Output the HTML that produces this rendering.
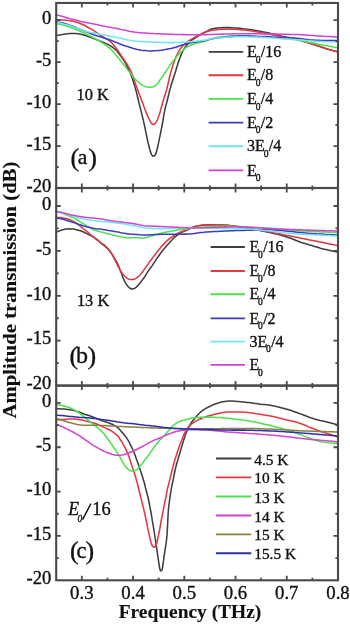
<!DOCTYPE html>
<html><head><meta charset="utf-8"><style>
html,body{margin:0;padding:0;background:#fff;width:350px;height:624px;overflow:hidden}
svg{display:block;will-change:transform}
text{font-family:"Liberation Serif",serif;fill:#111;stroke:#111;stroke-width:0.35px}
.cv path{fill:none;stroke-width:1.55;stroke-linejoin:round;stroke-linecap:round}
.ax{fill:none;stroke:#4a4a4a;stroke-width:2.1}
.tk{stroke:#4a4a4a;stroke-width:1.8;fill:none}
.yl{font-size:18.6px;text-anchor:end}
.xl{font-size:18.8px;text-anchor:middle}
.lg{stroke-width:1.9;fill:none}
.lt{font-size:16px}
.lt .sub{font-size:9.5px}
.lt2{font-size:15.4px}
.an{font-size:16.4px}
.pl{font-size:26px}
.pli{font-size:21.5px}
.e16{font-size:18.4px}
.xt{font-size:19.4px;font-weight:bold;text-anchor:middle;stroke-width:0.15px}
.yt{font-size:19.6px;font-weight:bold;stroke-width:0.15px}
</style></head><body>
<svg width="350" height="624" viewBox="0 0 350 624">
<g class="cv">
<path d="M56.0,35.7 58.0,35.3 59.9,34.9 61.9,34.6 63.9,34.2 65.8,33.9 67.8,33.7 69.8,33.5 71.8,33.5 73.8,33.5 75.8,33.6 77.8,33.8 79.8,34.1 81.7,34.4 83.7,34.9 85.6,35.5 87.5,36.2 89.4,36.9 91.2,37.6 93.1,38.3 94.9,39.0 96.8,39.8 98.7,40.5 100.5,41.3 102.4,42.0 104.2,42.8 106.1,43.6 107.9,44.4 109.6,45.4 111.3,46.4 113.0,47.5 114.6,48.8 116.0,50.1 117.3,51.6 118.6,53.2 119.8,54.8 121.0,56.4 122.2,58.0 123.3,59.7 124.3,61.4 125.4,63.1 126.3,64.8 127.2,66.6 128.1,68.4 128.9,70.2 129.8,72.1 130.6,73.9 131.3,75.7 132.1,77.6 132.7,79.5 133.3,81.4 133.9,83.3 134.5,85.2 135.0,87.1 135.5,89.1 136.1,91.0 136.6,92.9 137.1,94.9 137.5,96.8 138.0,98.8 138.5,100.7 138.9,102.7 139.4,104.6 139.9,106.5 140.4,108.5 140.9,110.4 141.4,112.4 141.9,114.3 142.3,116.2 142.8,118.2 143.3,120.1 143.7,122.1 144.2,124.0 144.6,126.0 145.0,127.9 145.4,129.9 145.8,131.9 146.2,133.8 146.6,135.8 147.0,137.7 147.4,139.7 147.8,141.6 148.3,143.6 148.8,145.5 149.3,147.5 149.8,149.4 150.4,151.3 150.9,153.2 151.8,155.0 153.0,156.2 154.5,155.8 155.6,154.2 156.3,152.4 156.8,150.4 157.3,148.5 157.8,146.6 158.2,144.6 158.6,142.6 159.0,140.7 159.4,138.7 159.8,136.8 160.2,134.8 160.6,132.9 161.0,130.9 161.4,128.9 161.8,127.0 162.2,125.0 162.5,123.0 162.9,121.1 163.2,119.1 163.5,117.1 163.9,115.1 164.2,113.2 164.6,111.2 165.0,109.3 165.5,107.3 166.0,105.4 166.5,103.4 167.0,101.5 167.5,99.6 167.9,97.6 168.4,95.7 168.9,93.7 169.3,91.8 169.8,89.9 170.4,87.9 170.9,86.0 171.5,84.1 172.1,82.2 172.7,80.3 173.3,78.4 173.9,76.5 174.6,74.6 175.2,72.7 175.8,70.8 176.3,68.8 176.9,66.9 177.5,65.0 178.1,63.1 178.7,61.2 179.4,59.3 180.1,57.4 180.8,55.6 181.6,53.7 182.4,51.9 183.4,50.2 184.4,48.4 185.5,46.8 186.7,45.2 188.0,43.6 189.4,42.2 190.9,40.9 192.5,39.7 194.2,38.6 195.8,37.5 197.5,36.5 199.2,35.4 201.0,34.4 202.7,33.5 204.5,32.5 206.3,31.6 208.0,30.7 209.8,29.8 211.7,29.1 213.6,28.6 215.6,28.2 217.6,28.0 219.6,27.8 221.6,27.7 223.6,27.6 225.6,27.6 227.6,27.6 229.6,27.6 231.6,27.7 233.6,27.9 235.6,28.0 237.5,28.1 239.5,28.3 241.5,28.5 243.5,28.8 245.5,29.0 247.5,29.3 249.5,29.5 251.4,29.8 253.4,30.1 255.4,30.4 257.4,30.8 259.3,31.1 261.3,31.5 263.3,31.9 265.2,32.3 267.2,32.7 269.1,33.1 271.1,33.6 273.0,34.0 275.0,34.5 276.9,35.0 278.8,35.5 280.8,36.0 282.7,36.4 284.7,36.8 286.7,37.2 288.6,37.5 290.6,37.8 292.6,38.1 294.5,38.6 296.5,39.1 298.4,39.6 300.3,40.2 302.2,40.9 304.1,41.5 306.0,42.1 307.9,42.7 309.8,43.3 311.7,43.9 313.6,44.5 315.5,45.1 317.4,45.7 319.3,46.3 321.2,47.0 323.1,47.6 325.0,48.3 326.9,48.9 328.8,49.5 330.8,50.0 332.7,50.6 334.6,51.1 336.6,51.6 337.5,51.9" stroke="#3e3e3e"/>
<path d="M56.0,19.6 58.0,19.7 60.0,19.8 62.0,20.0 64.0,20.1 66.0,20.2 68.0,20.4 70.0,20.7 71.9,21.0 73.9,21.4 75.8,22.0 77.7,22.6 79.6,23.2 81.4,24.0 83.3,24.8 85.0,25.7 86.8,26.7 88.6,27.7 90.3,28.6 92.0,29.6 93.7,30.7 95.4,31.8 97.1,32.9 98.7,34.0 100.4,35.1 102.1,36.1 103.8,37.2 105.5,38.3 107.2,39.3 108.8,40.5 110.4,41.7 111.9,43.0 113.3,44.5 114.5,46.0 115.8,47.6 116.9,49.2 118.1,50.9 119.2,52.5 120.3,54.2 121.4,55.8 122.5,57.5 123.7,59.2 124.8,60.8 125.9,62.5 127.0,64.1 128.0,65.9 129.0,67.6 129.9,69.4 130.8,71.2 131.7,73.0 132.4,74.8 133.1,76.7 133.7,78.6 134.4,80.5 135.0,82.4 135.7,84.3 136.3,86.2 137.0,88.1 137.7,89.9 138.4,91.8 139.1,93.7 139.8,95.6 140.5,97.4 141.2,99.3 141.9,101.2 142.6,103.1 143.3,104.9 144.0,106.8 144.7,108.7 145.4,110.5 146.1,112.4 146.9,114.2 147.7,116.1 148.5,117.9 149.4,119.7 150.2,121.5 151.2,123.2 152.6,124.4 154.3,124.3 155.6,123.0 156.7,121.3 157.5,119.5 158.2,117.6 158.9,115.8 159.5,113.9 160.1,112.0 160.6,110.0 161.1,108.1 161.7,106.2 162.2,104.2 162.7,102.3 163.3,100.4 163.9,98.5 164.5,96.6 165.1,94.7 165.7,92.8 166.3,90.9 166.9,88.9 167.3,87.0 167.7,85.0 168.2,83.1 168.6,81.1 169.0,79.2 169.5,77.2 170.0,75.3 170.5,73.4 171.0,71.4 171.6,69.5 172.2,67.6 172.8,65.7 173.4,63.8 174.1,61.9 174.8,60.0 175.5,58.2 176.3,56.3 177.1,54.5 178.0,52.7 178.9,51.0 180.0,49.3 181.2,47.7 182.5,46.2 183.9,44.8 185.4,43.4 187.0,42.1 188.6,41.0 190.3,39.9 192.0,38.9 193.7,37.9 195.5,37.0 197.3,36.0 199.0,35.1 200.8,34.2 202.6,33.3 204.4,32.5 206.3,31.8 208.2,31.2 210.2,30.7 212.1,30.3 214.1,29.9 216.1,29.7 218.1,29.5 220.0,29.4 222.0,29.3 224.0,29.2 226.0,29.2 228.0,29.2 230.0,29.2 232.0,29.2 234.0,29.3 236.0,29.4 238.0,29.5 240.0,29.7 242.0,29.9 244.0,30.1 246.0,30.3 248.0,30.5 250.0,30.8 251.9,31.1 253.9,31.4 255.9,31.7 257.9,32.0 259.8,32.4 261.8,32.7 263.8,33.1 265.7,33.5 267.7,33.9 269.6,34.3 271.6,34.7 273.6,35.1 275.5,35.4 277.5,35.8 279.5,36.1 281.5,36.4 283.4,36.8 285.4,37.1 287.4,37.4 289.4,37.7 291.3,38.0 293.3,38.4 295.2,38.8 297.2,39.4 299.1,39.9 301.0,40.5 302.9,41.1 304.8,41.7 306.7,42.3 308.6,42.9 310.5,43.5 312.5,44.1 314.4,44.7 316.3,45.3 318.2,46.0 320.1,46.6 322.0,47.2 323.8,47.9 325.7,48.5 327.7,49.1 329.6,49.7 331.5,50.2 333.4,50.8 335.3,51.3 337.3,51.8 337.8,51.9" stroke="#e23840"/>
<path d="M56.0,23.5 58.0,23.9 59.9,24.3 61.9,24.7 63.8,25.2 65.7,25.7 67.7,26.3 69.5,27.0 71.4,27.7 73.3,28.4 75.1,29.2 77.0,30.0 78.8,30.7 80.7,31.5 82.5,32.3 84.3,33.2 86.1,34.1 87.9,35.0 89.6,35.8 91.5,36.7 93.2,37.6 95.0,38.5 96.7,39.5 98.5,40.5 100.2,41.6 101.9,42.6 103.6,43.7 105.2,44.8 106.9,45.9 108.5,47.1 110.0,48.4 111.5,49.8 112.8,51.3 114.1,52.8 115.3,54.4 116.6,55.9 117.9,57.5 119.1,59.0 120.4,60.6 121.6,62.2 122.9,63.7 124.1,65.3 125.4,66.8 126.6,68.4 127.8,70.0 129.1,71.5 130.3,73.1 131.6,74.7 132.8,76.3 134.0,77.8 135.3,79.4 136.7,80.8 138.2,82.1 139.7,83.4 141.4,84.5 143.1,85.6 144.9,86.4 146.8,87.0 148.8,87.2 150.8,87.2 152.7,86.9 154.6,86.2 156.2,85.0 157.5,83.6 158.7,82.0 159.8,80.3 161.0,78.7 162.1,77.0 163.3,75.4 164.4,73.7 165.5,72.0 166.5,70.4 167.7,68.7 168.8,67.1 169.9,65.4 171.1,63.8 172.3,62.2 173.5,60.6 174.7,59.0 176.0,57.5 177.3,55.9 178.6,54.5 180.0,53.0 181.4,51.6 182.9,50.2 184.3,48.9 185.9,47.6 187.6,46.6 189.4,45.7 191.2,44.9 193.1,44.2 195.0,43.6 196.9,43.1 198.9,42.7 200.9,42.3 202.8,41.9 204.7,41.3 206.6,40.7 208.5,39.9 210.3,39.1 212.2,38.5 214.1,38.0 216.1,37.6 218.1,37.3 220.0,37.0 222.0,36.8 224.0,36.6 226.0,36.4 228.0,36.2 230.0,36.1 232.0,36.0 234.0,35.9 236.0,35.8 238.0,35.8 240.0,35.7 242.0,35.8 244.0,35.8 246.0,35.9 248.0,36.0 250.0,36.1 252.0,36.2 254.0,36.3 256.0,36.4 258.0,36.5 260.0,36.7 262.0,36.8 264.0,36.9 266.0,37.0 268.0,37.2 269.9,37.3 271.9,37.5 273.9,37.7 275.9,37.8 277.9,38.0 279.9,38.2 281.9,38.4 283.9,38.6 285.9,38.8 287.9,38.9 289.9,39.1 291.9,39.4 293.8,39.6 295.8,39.8 297.8,40.1 299.8,40.4 301.8,40.7 303.7,41.1 305.7,41.5 307.6,41.9 309.6,42.3 311.5,42.7 313.5,43.1 315.5,43.5 317.4,43.9 319.4,44.3 321.4,44.7 323.3,45.1 325.3,45.5 327.2,45.8 329.2,46.2 331.2,46.6 333.1,47.0 335.1,47.3 337.1,47.7 337.6,47.8" stroke="#4ce24c"/>
<path d="M56.0,21.6 58.0,22.0 59.9,22.4 61.9,22.8 63.8,23.3 65.7,23.8 67.7,24.4 69.5,25.1 71.4,25.8 73.3,26.5 75.1,27.3 77.0,28.1 78.8,28.8 80.7,29.5 82.5,30.2 84.4,31.0 86.3,31.7 88.1,32.5 90.0,33.3 91.8,34.0 93.7,34.7 95.6,35.4 97.5,36.0 99.4,36.5 101.3,37.1 103.2,37.7 105.1,38.3 107.0,38.9 108.9,39.5 110.8,40.2 112.7,40.9 114.5,41.7 116.4,42.4 118.2,43.2 120.1,44.0 121.9,44.7 123.8,45.4 125.7,46.1 127.6,46.6 129.5,47.2 131.4,47.8 133.4,48.4 135.3,48.9 137.2,49.4 139.2,49.8 141.1,50.2 143.1,50.4 145.1,50.6 147.1,50.8 149.1,50.9 151.1,50.9 153.1,50.8 155.1,50.7 157.1,50.6 159.1,50.4 161.1,50.2 163.1,49.9 165.0,49.6 167.0,49.2 169.0,48.8 170.9,48.4 172.9,47.9 174.8,47.4 176.7,46.9 178.6,46.3 180.5,45.6 182.4,45.0 184.3,44.5 186.3,43.9 188.2,43.4 190.2,43.0 192.1,42.6 194.1,42.2 196.1,41.9 198.0,41.6 200.0,41.4 202.0,41.1 204.0,40.7 205.9,40.3 207.9,39.8 209.8,39.3 211.7,38.9 213.7,38.5 215.7,38.2 217.7,37.9 219.6,37.6 221.6,37.4 223.6,37.2 225.6,37.0 227.6,36.8 229.6,36.6 231.6,36.5 233.6,36.3 235.6,36.2 237.6,36.1 239.6,36.1 241.6,36.1 243.6,36.0 245.6,36.1 247.6,36.1 249.6,36.1 251.6,36.2 253.6,36.2 255.6,36.3 257.6,36.4 259.6,36.4 261.6,36.5 263.6,36.6 265.6,36.6 267.6,36.7 269.6,36.8 271.6,36.9 273.6,37.1 275.6,37.2 277.5,37.3 279.5,37.4 281.5,37.5 283.5,37.6 285.5,37.7 287.5,37.8 289.5,37.8 291.5,37.9 293.5,38.1 295.5,38.2 297.5,38.3 299.5,38.5 301.5,38.7 303.5,38.9 305.5,39.2 307.5,39.4 309.4,39.7 311.4,39.9 313.4,40.0 315.4,40.2 317.4,40.2 319.4,40.3 321.4,40.4 323.4,40.4 325.4,40.4 327.4,40.4 329.4,40.4 331.4,40.4 333.4,40.4 335.4,40.4 337.4,40.4 337.9,40.4" stroke="#3c3cc0"/>
<path d="M56.0,22.2 58.0,22.6 59.9,23.0 61.9,23.4 63.8,23.9 65.7,24.4 67.7,25.0 69.6,25.6 71.4,26.3 73.3,27.0 75.2,27.7 77.1,28.3 79.0,29.0 80.9,29.6 82.8,30.3 84.7,30.9 86.6,31.5 88.5,32.0 90.5,32.4 92.4,32.7 94.4,33.1 96.4,33.5 98.3,33.9 100.3,34.3 102.3,34.7 104.2,35.1 106.2,35.5 108.1,35.8 110.1,36.2 112.1,36.5 114.1,36.8 116.0,37.2 118.0,37.7 119.9,38.1 121.8,38.6 123.8,39.1 125.7,39.6 127.7,40.0 129.7,40.3 131.6,40.6 133.6,40.9 135.6,41.1 137.6,41.3 139.6,41.4 141.6,41.5 143.6,41.6 145.6,41.7 147.6,41.8 149.6,41.9 151.6,42.0 153.6,42.1 155.6,42.2 157.6,42.2 159.6,42.3 161.6,42.4 163.6,42.5 165.6,42.5 167.6,42.6 169.6,42.6 171.6,42.6 173.6,42.6 175.6,42.5 177.6,42.5 179.6,42.4 181.6,42.3 183.6,42.2 185.6,42.1 187.6,42.0 189.5,41.8 191.5,41.7 193.5,41.5 195.5,41.3 197.5,41.1 199.5,40.9 201.5,40.6 203.5,40.4 205.4,40.0 207.4,39.6 209.3,39.2 211.3,38.7 213.3,38.4 215.2,38.1 217.2,37.9 219.2,37.7 221.2,37.6 223.2,37.4 225.2,37.3 227.2,37.2 229.2,37.1 231.2,37.0 233.2,36.9 235.2,36.8 237.2,36.8 239.2,36.7 241.2,36.7 243.2,36.7 245.2,36.8 247.2,36.8 249.2,36.9 251.2,36.9 253.2,37.0 255.2,37.0 257.2,37.1 259.2,37.2 261.2,37.3 263.2,37.4 265.2,37.5 267.2,37.7 269.2,37.8 271.2,38.0 273.2,38.1 275.2,38.3 277.1,38.4 279.1,38.5 281.1,38.7 283.1,38.8 285.1,38.9 287.1,39.0 289.1,39.2 291.1,39.3 293.1,39.4 295.1,39.5 297.1,39.7 299.1,39.8 301.1,40.0 303.1,40.2 305.1,40.4 307.1,40.6 309.1,40.8 311.0,41.0 313.0,41.1 315.0,41.2 317.0,41.3 319.0,41.4 321.0,41.5 323.0,41.6 325.0,41.7 327.0,41.7 329.0,41.8 331.0,41.8 333.0,41.8 335.0,41.8 337.0,41.9 337.5,41.9" stroke="#70e6f0"/>
<path d="M56.0,14.9 58.0,15.3 59.9,15.8 61.8,16.3 63.8,16.8 65.7,17.4 67.6,18.0 69.5,18.6 71.4,19.1 73.4,19.5 75.3,20.0 77.3,20.5 79.2,21.0 81.1,21.5 83.1,21.9 85.1,22.3 87.0,22.7 89.0,23.1 91.0,23.4 92.9,23.8 94.9,24.2 96.8,24.6 98.8,25.1 100.7,25.5 102.7,25.9 104.6,26.3 106.6,26.7 108.6,27.0 110.6,27.3 112.5,27.7 114.5,28.0 116.5,28.4 118.4,28.8 120.4,29.3 122.3,29.7 124.3,30.1 126.2,30.6 128.2,31.0 130.1,31.4 132.1,31.7 134.1,32.1 136.1,32.3 138.1,32.6 140.0,32.7 142.0,32.9 144.0,33.0 146.0,33.1 148.0,33.2 150.0,33.4 152.0,33.4 154.0,33.6 156.0,33.7 158.0,33.7 160.0,33.8 162.0,33.9 164.0,34.0 166.0,34.1 168.0,34.2 170.0,34.2 172.0,34.3 174.0,34.4 176.0,34.4 178.0,34.5 180.0,34.5 182.0,34.6 184.0,34.6 186.0,34.7 188.0,34.7 190.0,34.7 192.0,34.8 194.0,34.8 196.0,34.8 198.0,34.8 200.0,34.8 202.0,34.8 204.0,34.7 206.0,34.7 208.0,34.6 210.0,34.5 212.0,34.4 214.0,34.4 216.0,34.3 218.0,34.2 220.0,34.2 222.0,34.1 224.0,34.1 226.0,34.0 228.0,33.9 230.0,33.9 232.0,33.9 234.0,33.8 236.0,33.8 238.0,33.8 240.0,33.8 242.0,33.8 244.0,33.8 246.0,33.8 248.0,33.8 250.0,33.8 252.0,33.8 254.0,33.8 256.0,33.8 258.0,33.8 260.0,33.9 262.0,33.9 264.0,33.9 266.0,33.9 268.0,34.0 270.0,34.0 272.0,34.0 274.0,34.1 276.0,34.1 278.0,34.1 280.0,34.2 282.0,34.2 284.0,34.2 286.0,34.3 288.0,34.3 290.0,34.4 292.0,34.4 294.0,34.5 296.0,34.5 298.0,34.6 300.0,34.7 302.0,34.8 304.0,34.9 306.0,35.0 308.0,35.2 310.0,35.3 311.9,35.4 313.9,35.6 315.9,35.7 317.9,35.9 319.9,36.0 321.9,36.1 323.9,36.3 325.9,36.4 327.9,36.5 329.9,36.6 331.9,36.7 333.9,36.8 335.9,36.9 337.9,37.0" stroke="#d044d0"/>
<path d="M56.0,232.0 57.9,231.4 59.8,230.7 61.7,230.1 63.6,229.6 65.6,229.1 67.5,228.9 69.5,228.8 71.5,228.9 73.5,229.1 75.5,229.5 77.5,229.9 79.4,230.4 81.3,231.1 83.1,231.8 84.9,232.7 86.7,233.6 88.5,234.5 90.3,235.4 92.1,236.3 93.8,237.2 95.5,238.3 97.1,239.5 98.5,240.9 99.9,242.3 101.5,243.6 103.1,244.8 104.7,246.0 106.2,247.3 107.6,248.7 109.0,250.2 110.2,251.7 111.4,253.4 112.5,255.0 113.5,256.7 114.6,258.4 115.6,260.1 116.6,261.9 117.5,263.7 118.3,265.5 119.1,267.3 119.8,269.2 120.6,271.1 121.3,272.9 122.0,274.8 122.6,276.7 123.4,278.5 124.2,280.4 125.1,282.2 126.1,283.9 127.2,285.5 128.5,287.0 130.1,288.3 131.8,289.0 133.7,288.8 135.4,287.8 136.9,286.6 138.3,285.1 139.6,283.6 140.8,282.0 142.0,280.4 143.2,278.8 144.4,277.2 145.5,275.5 146.5,273.8 147.5,272.1 148.7,270.4 149.8,268.8 151.0,267.2 152.2,265.6 153.3,263.9 154.4,262.3 155.5,260.6 156.6,258.9 157.8,257.3 158.9,255.7 160.1,254.0 161.2,252.4 162.4,250.8 163.7,249.2 165.0,247.7 166.3,246.2 167.6,244.7 169.0,243.2 170.3,241.8 171.7,240.3 173.0,238.8 174.5,237.4 176.0,236.1 177.6,234.9 179.2,233.8 181.0,232.8 182.7,231.9 184.6,231.1 186.4,230.3 188.2,229.5 190.0,228.6 191.8,227.7 193.6,226.9 195.6,226.3 197.5,225.9 199.5,225.6 201.5,225.3 203.4,225.1 205.4,224.9 207.4,224.8 209.4,224.8 211.4,224.8 213.4,224.8 215.4,224.9 217.4,224.9 219.4,225.0 221.4,225.0 223.4,225.1 225.4,225.2 227.4,225.3 229.4,225.5 231.4,225.7 233.4,225.9 235.4,226.2 237.4,226.5 239.3,226.8 241.3,227.1 243.3,227.4 245.3,227.8 247.2,228.1 249.2,228.5 251.2,228.8 253.1,229.2 255.1,229.5 257.1,229.9 259.0,230.3 261.0,230.7 262.9,231.1 264.9,231.5 266.9,231.9 268.8,232.3 270.8,232.8 272.7,233.2 274.7,233.7 276.6,234.1 278.5,234.6 280.5,235.1 282.4,235.7 284.3,236.2 286.2,236.8 288.2,237.4 290.0,238.0 291.9,238.7 293.8,239.5 295.6,240.3 297.5,241.0 299.3,241.7 301.2,242.4 303.1,243.0 305.0,243.6 307.0,244.1 308.9,244.7 310.8,245.2 312.7,245.8 314.6,246.4 316.5,247.0 318.5,247.6 320.4,248.2 322.3,248.7 324.2,249.2 326.2,249.6 328.1,250.1 330.1,250.5 332.0,250.9 334.0,251.3 336.0,251.8 337.9,252.2" stroke="#3e3e3e"/>
<path d="M56.0,217.2 58.0,217.4 60.0,217.6 62.0,217.8 63.9,218.2 65.9,218.6 67.8,219.1 69.7,219.7 71.6,220.5 73.4,221.4 75.1,222.4 76.8,223.5 78.4,224.7 79.9,226.0 81.4,227.2 83.0,228.5 84.6,229.7 86.2,230.9 87.7,232.2 89.3,233.5 90.8,234.8 92.3,236.0 93.8,237.3 95.4,238.6 96.9,239.9 98.5,241.1 100.2,242.2 101.8,243.3 103.5,244.4 105.1,245.7 106.5,247.0 107.9,248.5 109.2,250.0 110.4,251.6 111.5,253.3 112.5,255.0 113.4,256.8 114.3,258.6 115.2,260.4 116.1,262.2 116.9,264.0 117.8,265.8 118.7,267.5 119.7,269.3 120.7,271.0 121.8,272.7 123.0,274.3 124.3,275.8 125.7,277.2 127.3,278.4 129.1,279.2 131.1,279.6 133.0,279.5 134.9,278.9 136.7,277.9 138.2,276.7 139.7,275.3 141.0,273.8 142.2,272.2 143.4,270.6 144.5,269.0 145.7,267.4 146.8,265.7 148.0,264.1 149.1,262.4 150.3,260.8 151.5,259.2 152.7,257.6 153.9,256.0 155.2,254.5 156.4,252.9 157.6,251.3 158.8,249.7 160.1,248.2 161.3,246.6 162.7,245.1 164.0,243.7 165.5,242.2 166.9,240.9 168.4,239.6 170.0,238.3 171.6,237.1 173.2,236.0 174.9,234.9 176.7,233.9 178.4,233.0 180.3,232.2 182.1,231.5 184.0,230.8 185.9,230.2 187.8,229.4 189.6,228.6 191.4,227.9 193.3,227.2 195.3,226.7 197.2,226.2 199.2,225.8 201.1,225.5 203.1,225.3 205.1,225.1 207.1,225.0 209.1,225.0 211.1,225.0 213.1,225.0 215.1,225.0 217.1,225.0 219.1,225.0 221.1,225.1 223.1,225.1 225.1,225.2 227.1,225.3 229.1,225.5 231.1,225.7 233.1,225.9 235.1,226.2 237.0,226.4 239.0,226.7 241.0,227.1 243.0,227.4 244.9,227.7 246.9,228.1 248.9,228.4 250.8,228.7 252.8,229.1 254.8,229.4 256.8,229.7 258.7,230.0 260.7,230.4 262.7,230.7 264.7,231.0 266.6,231.4 268.6,231.7 270.6,232.1 272.5,232.5 274.5,232.9 276.4,233.3 278.4,233.7 280.4,234.1 282.3,234.5 284.3,234.9 286.3,235.3 288.2,235.6 290.2,236.0 292.1,236.4 294.1,236.8 296.1,237.2 298.0,237.6 300.0,238.0 301.9,238.4 303.9,238.8 305.9,239.2 307.8,239.6 309.8,240.0 311.7,240.3 313.7,240.7 315.7,241.1 317.6,241.5 319.6,241.9 321.6,242.3 323.5,242.7 325.5,243.1 327.4,243.5 329.4,243.9 331.4,244.3 333.3,244.7 335.3,245.1 337.2,245.4 337.7,245.5" stroke="#e23840"/>
<path d="M56.0,211.6 57.9,212.1 59.9,212.6 61.8,213.1 63.7,213.7 65.6,214.5 67.4,215.2 69.2,216.0 71.1,216.7 73.0,217.5 74.8,218.4 76.5,219.4 78.1,220.5 79.8,221.6 81.5,222.6 83.2,223.6 84.9,224.7 86.6,225.8 88.3,226.8 90.0,227.9 91.8,228.8 93.6,229.7 95.5,230.4 97.4,231.0 99.3,231.5 101.2,232.1 103.2,232.5 105.1,233.0 107.1,233.4 109.0,233.9 111.0,234.3 112.9,234.9 114.8,235.4 116.8,235.9 118.7,236.3 120.7,236.8 122.6,237.1 124.6,237.4 126.6,237.7 128.6,237.8 130.6,237.8 132.6,237.8 134.6,237.8 136.6,237.8 138.6,237.8 140.6,237.9 142.6,238.0 144.6,237.9 146.5,237.5 148.4,237.0 150.3,236.3 152.2,235.7 154.1,235.1 156.1,234.5 158.0,234.0 159.9,233.5 161.9,233.0 163.8,232.6 165.8,232.2 167.7,231.8 169.7,231.4 171.7,231.1 173.6,230.7 175.6,230.4 177.6,230.1 179.6,229.9 181.6,229.6 183.5,229.3 185.5,229.0 187.5,228.7 189.5,228.4 191.5,228.2 193.4,227.9 195.4,227.7 197.4,227.4 199.4,227.3 201.4,227.1 203.4,227.0 205.4,226.9 207.4,226.8 209.4,226.7 211.4,226.6 213.4,226.5 215.4,226.4 217.4,226.3 219.4,226.3 221.4,226.2 223.4,226.2 225.4,226.2 227.4,226.2 229.4,226.2 231.4,226.3 233.4,226.4 235.4,226.4 237.4,226.5 239.4,226.6 241.4,226.7 243.4,226.9 245.4,227.0 247.4,227.1 249.4,227.2 251.4,227.3 253.3,227.3 255.3,227.4 257.3,227.5 259.3,227.6 261.3,227.7 263.3,227.8 265.3,227.9 267.3,228.0 269.3,228.2 271.3,228.3 273.3,228.5 275.3,228.6 277.3,228.8 279.3,229.0 281.3,229.2 283.3,229.4 285.3,229.6 287.3,229.8 289.2,229.9 291.2,230.1 293.2,230.3 295.2,230.4 297.2,230.6 299.2,230.7 301.2,230.8 303.2,231.0 305.2,231.1 307.2,231.2 309.2,231.4 311.2,231.5 313.2,231.6 315.2,231.7 317.2,231.8 319.2,231.8 321.2,231.9 323.2,232.0 325.2,232.1 327.2,232.2 329.2,232.2 331.2,232.3 333.2,232.4 335.2,232.5 337.2,232.6 337.7,232.6" stroke="#4ce24c"/>
<path d="M56.0,217.9 58.0,218.2 59.9,218.6 61.9,219.0 63.8,219.5 65.7,220.1 67.6,220.7 69.6,221.3 71.5,221.9 73.4,222.4 75.3,223.0 77.2,223.7 79.1,224.4 81.0,225.0 82.9,225.7 84.8,226.2 86.7,226.7 88.6,227.2 90.6,227.7 92.6,228.0 94.5,228.4 96.5,228.7 98.5,228.9 100.5,229.1 102.5,229.4 104.4,229.7 106.4,230.0 108.4,230.4 110.4,230.7 112.3,231.0 114.3,231.4 116.3,231.8 118.2,232.1 120.2,232.6 122.1,233.0 124.1,233.3 126.1,233.6 128.1,233.9 130.1,234.1 132.1,234.2 134.0,234.3 136.0,234.5 138.0,234.6 140.0,234.8 142.0,234.9 144.0,235.0 146.0,235.0 148.0,234.9 150.0,234.8 152.0,234.7 154.0,234.6 156.0,234.4 158.0,234.4 160.0,234.3 162.0,234.3 164.0,234.3 166.0,234.3 168.0,234.3 170.0,234.3 172.0,234.3 174.0,234.3 176.0,234.3 178.0,234.2 180.0,234.2 182.0,234.2 184.0,234.1 186.0,234.1 188.0,234.0 190.0,233.9 192.0,233.7 194.0,233.5 196.0,233.2 197.9,232.9 199.9,232.6 201.9,232.4 203.9,232.3 205.9,232.1 207.9,232.0 209.9,231.8 211.9,231.7 213.9,231.6 215.9,231.5 217.9,231.4 219.9,231.3 221.9,231.2 223.9,231.1 225.9,231.0 227.9,230.9 229.9,230.8 231.8,230.7 233.8,230.7 235.8,230.6 237.8,230.5 239.8,230.5 241.8,230.4 243.8,230.4 245.8,230.3 247.8,230.3 249.8,230.2 251.8,230.1 253.8,230.1 255.8,230.0 257.8,229.9 259.8,229.9 261.8,229.8 263.8,229.8 265.8,229.8 267.8,229.8 269.8,229.8 271.8,229.9 273.8,230.0 275.8,230.1 277.8,230.3 279.8,230.4 281.8,230.6 283.8,230.8 285.8,231.0 287.8,231.2 289.8,231.4 291.8,231.6 293.7,231.8 295.7,232.0 297.7,232.2 299.7,232.4 301.7,232.6 303.7,232.8 305.7,233.0 307.7,233.2 309.7,233.4 311.7,233.5 313.7,233.7 315.7,233.8 317.6,233.9 319.6,234.0 321.6,234.1 323.6,234.2 325.6,234.4 327.6,234.5 329.6,234.6 331.6,234.7 333.6,234.8 335.6,234.9 337.6,235.0" stroke="#3c3cc0"/>
<path d="M56.0,211.4 57.9,211.9 59.9,212.4 61.8,212.9 63.8,213.3 65.7,213.8 67.6,214.3 69.6,214.8 71.5,215.4 73.4,216.0 75.3,216.6 77.2,217.2 79.1,217.8 81.1,218.3 83.0,218.8 84.9,219.2 86.9,219.6 88.9,219.9 90.9,220.2 92.8,220.5 94.8,220.7 96.8,221.0 98.8,221.2 100.8,221.5 102.8,221.7 104.8,221.8 106.8,222.0 108.8,222.1 110.8,222.3 112.7,222.5 114.7,222.7 116.7,222.9 118.7,223.2 120.7,223.5 122.7,223.8 124.6,224.1 126.6,224.4 128.6,224.8 130.5,225.1 132.5,225.5 134.5,225.9 136.4,226.3 138.4,226.7 140.3,227.1 142.3,227.5 144.3,227.8 146.3,228.0 148.3,228.2 150.2,228.3 152.2,228.4 154.2,228.5 156.2,228.6 158.2,228.6 160.2,228.6 162.2,228.6 164.2,228.6 166.2,228.5 168.2,228.5 170.2,228.4 172.2,228.3 174.2,228.3 176.2,228.2 178.2,228.2 180.2,228.1 182.2,228.1 184.2,228.0 186.2,228.0 188.2,228.0 190.2,227.9 192.2,227.9 194.2,227.9 196.2,227.9 198.2,227.9 200.2,227.9 202.2,227.9 204.2,228.0 206.2,228.0 208.2,228.0 210.2,228.1 212.2,228.1 214.2,228.1 216.2,228.2 218.2,228.2 220.2,228.3 222.2,228.3 224.2,228.4 226.2,228.4 228.2,228.5 230.2,228.5 232.2,228.6 234.2,228.6 236.2,228.6 238.2,228.7 240.2,228.8 242.2,228.8 244.2,228.9 246.2,229.0 248.2,229.1 250.2,229.2 252.2,229.3 254.2,229.5 256.2,229.7 258.2,229.8 260.2,230.0 262.2,230.2 264.2,230.4 266.2,230.6 268.1,230.8 270.1,231.0 272.1,231.2 274.1,231.5 276.1,231.7 278.1,232.0 280.1,232.2 282.0,232.5 284.0,232.7 286.0,233.0 288.0,233.2 290.0,233.4 292.0,233.6 294.0,233.7 296.0,233.8 298.0,234.0 300.0,234.1 302.0,234.2 304.0,234.3 306.0,234.4 308.0,234.5 310.0,234.6 311.9,234.7 313.9,234.8 315.9,234.9 317.9,235.0 319.9,235.1 321.9,235.2 323.9,235.3 325.9,235.4 327.9,235.5 329.9,235.6 331.9,235.7 333.9,235.8 335.9,235.9 337.9,236.0" stroke="#70e6f0"/>
<path d="M56.0,211.2 57.9,211.7 59.9,212.1 61.8,212.6 63.8,213.0 65.7,213.5 67.7,214.0 69.6,214.5 71.6,214.9 73.5,215.3 75.5,215.7 77.4,216.1 79.4,216.4 81.4,216.7 83.4,217.0 85.4,217.3 87.3,217.5 89.3,217.7 91.3,217.9 93.3,218.1 95.3,218.3 97.3,218.5 99.3,218.7 101.3,219.0 103.2,219.3 105.2,219.8 107.1,220.1 109.1,220.4 111.1,220.7 113.1,220.9 115.1,221.2 117.1,221.4 119.0,221.7 121.0,221.9 123.0,222.2 125.0,222.5 127.0,222.7 129.0,223.0 130.9,223.3 132.9,223.6 134.9,223.9 136.9,224.3 138.8,224.7 140.8,225.0 142.7,225.4 144.7,225.7 146.7,225.9 148.7,226.0 150.7,226.1 152.7,226.2 154.7,226.2 156.7,226.3 158.7,226.4 160.7,226.5 162.7,226.6 164.7,226.7 166.7,226.8 168.7,226.9 170.7,227.0 172.7,227.1 174.7,227.2 176.7,227.3 178.7,227.4 180.7,227.5 182.7,227.6 184.7,227.8 186.7,227.8 188.7,227.9 190.7,228.0 192.7,228.0 194.7,228.0 196.7,228.0 198.7,228.0 200.7,227.9 202.7,227.9 204.7,227.8 206.7,227.8 208.7,227.7 210.7,227.6 212.7,227.5 214.7,227.5 216.7,227.4 218.7,227.3 220.7,227.3 222.7,227.2 224.6,227.1 226.6,227.1 228.6,227.0 230.6,226.9 232.6,226.9 234.6,226.8 236.6,226.8 238.6,226.8 240.6,226.8 242.6,226.9 244.6,227.0 246.6,227.1 248.6,227.2 250.6,227.3 252.6,227.5 254.6,227.6 256.6,227.7 258.6,227.9 260.6,228.0 262.6,228.1 264.6,228.3 266.6,228.4 268.6,228.5 270.6,228.6 272.6,228.7 274.6,228.8 276.6,228.9 278.6,229.0 280.6,229.0 282.6,229.1 284.6,229.2 286.6,229.3 288.6,229.3 290.6,229.4 292.6,229.5 294.6,229.6 296.6,229.7 298.6,229.8 300.6,229.8 302.6,229.9 304.6,230.0 306.6,230.1 308.6,230.1 310.6,230.2 312.6,230.3 314.6,230.3 316.6,230.4 318.6,230.5 320.6,230.5 322.5,230.6 324.5,230.6 326.5,230.7 328.5,230.7 330.5,230.8 332.5,230.8 334.5,230.9 336.5,231.0 337.5,231.0" stroke="#d044d0"/>
<path d="M56.0,408.6 58.0,408.7 60.0,408.8 62.0,408.9 64.0,409.0 66.0,409.2 68.0,409.4 69.9,409.7 71.9,410.1 73.8,410.6 75.8,411.1 77.7,411.7 79.6,412.3 81.5,413.0 83.3,413.7 85.2,414.4 87.1,415.0 89.0,415.6 90.9,416.2 92.8,417.0 94.6,417.8 96.5,418.5 98.3,419.3 100.2,420.0 102.1,420.7 104.0,421.3 105.9,421.9 107.8,422.5 109.6,423.2 111.5,424.0 113.3,424.8 115.0,425.8 116.7,426.9 118.3,428.2 119.7,429.6 121.0,431.1 122.4,432.6 123.6,434.1 124.9,435.7 126.1,437.2 127.2,438.9 128.3,440.6 129.3,442.3 130.1,444.1 131.0,445.9 131.9,447.7 132.8,449.5 133.6,451.3 134.4,453.2 135.0,455.1 135.7,457.0 136.3,458.8 137.0,460.7 137.7,462.6 138.4,464.5 139.1,466.4 139.7,468.3 140.3,470.2 141.0,472.1 141.6,474.0 142.2,475.9 142.8,477.8 143.3,479.7 143.9,481.6 144.5,483.5 145.0,485.5 145.4,487.4 145.9,489.4 146.4,491.3 146.9,493.2 147.5,495.2 148.0,497.1 148.4,499.0 148.8,501.0 149.2,503.0 149.6,504.9 149.9,506.9 150.3,508.9 150.7,510.8 151.0,512.8 151.4,514.8 151.7,516.7 152.0,518.7 152.3,520.7 152.7,522.7 153.0,524.6 153.4,526.6 153.7,528.6 154.0,530.5 154.3,532.5 154.6,534.5 154.9,536.5 155.2,538.5 155.5,540.4 155.8,542.4 156.1,544.4 156.4,546.4 156.7,548.3 157.0,550.3 157.3,552.3 157.5,554.3 157.8,556.3 158.1,558.2 158.4,560.2 158.7,562.2 159.0,564.2 159.3,566.1 159.7,568.1 160.1,570.0 161.0,571.0 162.0,570.0 162.5,568.1 162.8,566.1 163.0,564.2 163.3,562.2 163.6,560.2 163.8,558.2 164.1,556.2 164.4,554.3 164.7,552.3 165.0,550.3 165.3,548.3 165.6,546.4 165.9,544.4 166.2,542.4 166.4,540.4 166.7,538.4 166.9,536.4 167.1,534.4 167.2,532.4 167.3,530.5 167.4,528.5 167.5,526.5 167.6,524.5 167.7,522.5 167.8,520.5 167.9,518.5 168.0,516.5 168.1,514.5 168.2,512.5 168.4,510.5 168.5,508.5 168.8,506.5 169.0,504.5 169.3,502.5 169.5,500.5 169.8,498.6 170.1,496.6 170.4,494.6 170.7,492.6 171.0,490.7 171.3,488.7 171.7,486.7 172.1,484.8 172.5,482.8 173.0,480.9 173.4,478.9 173.7,476.9 174.1,475.0 174.5,473.0 174.9,471.0 175.3,469.1 175.8,467.1 176.3,465.2 176.8,463.3 177.4,461.4 177.9,459.4 178.5,457.5 179.1,455.6 179.7,453.7 180.2,451.8 180.8,449.9 181.3,447.9 181.9,446.0 182.5,444.1 183.0,442.2 183.6,440.3 184.2,438.4 184.9,436.5 185.5,434.6 186.2,432.7 187.0,430.9 187.8,429.0 188.7,427.2 189.6,425.5 190.6,423.7 191.7,422.1 192.9,420.5 194.2,418.9 195.5,417.4 196.8,415.9 198.2,414.5 199.6,413.0 201.1,411.7 202.7,410.5 204.3,409.4 206.0,408.3 207.8,407.4 209.6,406.5 211.4,405.6 213.2,404.8 215.1,404.1 217.0,403.4 218.9,402.8 220.8,402.3 222.7,401.8 224.7,401.4 226.7,401.2 228.7,401.0 230.7,401.0 232.7,401.0 234.7,401.2 236.7,401.4 238.6,401.5 240.6,401.7 242.6,401.9 244.6,402.1 246.6,402.4 248.6,402.6 250.6,402.8 252.6,403.1 254.5,403.4 256.5,403.6 258.5,403.9 260.5,404.2 262.5,404.4 264.5,404.6 266.5,404.8 268.4,405.0 270.4,405.3 272.4,405.7 274.3,406.1 276.3,406.5 278.3,406.9 280.2,407.4 282.1,407.9 284.1,408.4 286.0,408.9 287.9,409.5 289.8,410.1 291.7,410.8 293.6,411.4 295.5,412.1 297.4,412.7 299.3,413.4 301.1,414.1 303.0,414.8 304.9,415.5 306.7,416.3 308.6,417.0 310.5,417.7 312.4,418.3 314.3,418.9 316.2,419.4 318.2,419.9 320.1,420.4 322.0,420.8 324.0,421.3 325.9,421.7 327.9,422.2 329.8,422.7 331.8,423.2 333.7,423.7 335.6,424.2 337.6,424.7" stroke="#3e3e3e"/>
<path d="M56.0,419.6 58.0,419.6 60.0,419.6 62.0,419.6 64.0,419.4 66.0,419.2 68.0,419.1 70.0,419.0 72.0,419.0 74.0,419.1 76.0,419.2 77.9,419.5 79.9,419.8 81.9,420.1 83.9,420.5 85.8,421.0 87.8,421.4 89.7,421.9 91.6,422.4 93.6,422.9 95.5,423.5 97.3,424.3 99.1,425.1 100.9,426.0 102.8,426.8 104.6,427.6 106.4,428.4 108.2,429.3 110.0,430.2 111.7,431.2 113.4,432.3 115.0,433.5 116.5,434.8 117.9,436.2 119.1,437.8 120.2,439.5 121.3,441.2 122.4,442.9 123.3,444.6 124.3,446.4 125.2,448.1 126.1,449.9 127.0,451.7 127.8,453.6 128.5,455.4 129.2,457.3 129.8,459.2 130.4,461.1 131.0,463.0 131.6,464.9 132.2,466.8 132.9,468.7 133.5,470.6 134.2,472.5 134.8,474.4 135.4,476.3 135.9,478.2 136.5,480.2 137.0,482.1 137.5,484.0 138.0,486.0 138.5,487.9 138.9,489.9 139.4,491.8 139.9,493.7 140.4,495.7 140.9,497.6 141.4,499.6 141.8,501.5 142.3,503.4 142.8,505.4 143.3,507.3 143.8,509.3 144.2,511.2 144.7,513.2 145.1,515.1 145.5,517.1 145.9,519.0 146.3,521.0 146.7,523.0 147.1,524.9 147.5,526.9 147.9,528.8 148.3,530.8 148.7,532.7 149.2,534.7 149.6,536.6 150.0,538.6 150.5,540.5 151.0,542.5 151.6,544.4 152.5,546.2 153.8,547.3 155.2,546.7 156.1,545.1 156.7,543.2 157.2,541.2 157.6,539.3 158.0,537.3 158.5,535.4 158.9,533.4 159.3,531.5 159.7,529.5 160.0,527.5 160.4,525.5 160.7,523.6 161.0,521.6 161.4,519.6 161.8,517.7 162.2,515.7 162.6,513.8 163.0,511.8 163.4,509.8 163.7,507.9 164.1,505.9 164.5,503.9 164.9,502.0 165.3,500.0 165.7,498.1 166.1,496.1 166.4,494.1 166.8,492.2 167.2,490.2 167.6,488.2 168.1,486.3 168.6,484.4 169.1,482.4 169.6,480.5 170.1,478.5 170.5,476.6 171.0,474.7 171.5,472.7 172.0,470.8 172.5,468.8 173.0,466.9 173.5,465.0 174.0,463.0 174.5,461.1 175.1,459.2 175.7,457.3 176.3,455.4 176.9,453.5 177.5,451.6 178.2,449.7 178.8,447.8 179.5,445.9 180.2,444.0 180.9,442.2 181.7,440.3 182.4,438.5 183.1,436.6 183.9,434.7 184.7,432.9 185.6,431.1 186.6,429.4 187.8,427.8 189.1,426.3 190.5,424.9 192.1,423.6 193.7,422.4 195.4,421.3 197.1,420.4 198.9,419.5 200.7,418.7 202.6,417.9 204.4,417.2 206.3,416.6 208.3,416.0 210.2,415.5 212.1,415.0 214.0,414.5 216.0,414.0 217.9,413.6 219.9,413.2 221.9,412.8 223.8,412.5 225.8,412.2 227.8,412.0 229.8,411.9 231.8,411.9 233.8,411.9 235.8,411.9 237.8,411.9 239.8,412.0 241.8,412.1 243.8,412.2 245.8,412.3 247.8,412.5 249.8,412.8 251.8,413.0 253.7,413.3 255.7,413.7 257.7,414.0 259.6,414.3 261.6,414.6 263.6,414.9 265.6,415.2 267.6,415.5 269.5,415.8 271.5,416.2 273.4,416.6 275.4,417.1 277.3,417.6 279.3,418.1 281.2,418.6 283.1,419.1 285.1,419.5 287.0,420.0 289.0,420.4 290.9,420.9 292.9,421.3 294.8,421.8 296.8,422.3 298.7,422.9 300.6,423.6 302.4,424.3 304.3,425.0 306.1,425.8 308.0,426.6 309.8,427.4 311.7,428.1 313.5,428.8 315.4,429.5 317.3,430.2 319.2,430.9 321.1,431.6 322.9,432.2 324.8,432.8 326.8,433.4 328.7,434.0 330.6,434.6 332.5,435.2 334.4,435.8 336.3,436.5 337.7,436.9" stroke="#e23840"/>
<path d="M56.0,404.7 58.0,404.9 60.0,405.1 62.0,405.4 63.9,405.9 65.8,406.5 67.7,407.1 69.6,407.8 71.4,408.6 73.2,409.4 75.0,410.3 76.7,411.3 78.4,412.4 80.0,413.6 81.6,414.8 83.1,416.1 84.7,417.4 86.3,418.6 87.8,419.8 89.4,421.1 90.9,422.3 92.5,423.6 94.0,424.9 95.6,426.2 97.1,427.4 98.7,428.7 100.2,430.0 101.6,431.4 103.0,432.8 104.3,434.3 105.6,435.9 106.8,437.5 107.9,439.1 109.1,440.7 110.2,442.4 111.4,444.0 112.5,445.7 113.6,447.4 114.7,449.0 115.8,450.7 116.9,452.4 118.0,454.0 119.1,455.7 120.2,457.4 121.1,459.2 122.0,461.0 123.0,462.7 124.0,464.4 125.1,466.1 126.3,467.6 127.8,469.0 129.4,470.2 131.1,471.0 133.1,471.2 135.0,470.7 136.6,469.7 138.1,468.3 139.4,466.8 140.7,465.3 142.0,463.8 143.2,462.2 144.4,460.6 145.6,459.0 146.9,457.4 148.1,455.8 149.3,454.2 150.4,452.6 151.6,451.0 152.7,449.3 153.8,447.6 155.0,446.0 156.2,444.4 157.4,442.9 158.7,441.3 160.0,439.8 161.4,438.4 162.8,437.0 164.2,435.5 165.6,434.1 166.9,432.6 168.2,431.0 169.5,429.5 170.7,428.0 172.1,426.5 173.6,425.2 175.2,424.0 176.9,422.9 178.6,421.9 180.4,421.1 182.3,420.5 184.3,419.9 186.2,419.4 188.1,419.0 190.1,418.5 192.0,418.1 194.0,417.8 196.0,417.5 198.0,417.4 200.0,417.3 202.0,417.2 204.0,417.2 206.0,417.2 208.0,417.2 210.0,417.2 212.0,417.2 214.0,417.3 216.0,417.4 218.0,417.5 220.0,417.6 222.0,417.8 224.0,418.0 226.0,418.1 227.9,418.3 229.9,418.5 231.9,418.7 233.9,418.9 235.9,419.2 237.9,419.4 239.9,419.6 241.9,419.9 243.8,420.2 245.8,420.5 247.8,420.8 249.8,421.1 251.7,421.5 253.7,421.8 255.7,422.2 257.6,422.6 259.6,423.0 261.5,423.4 263.5,423.9 265.4,424.4 267.4,424.8 269.3,425.3 271.3,425.8 273.2,426.3 275.1,426.7 277.1,427.2 279.0,427.7 281.0,428.1 282.9,428.7 284.8,429.2 286.7,429.8 288.6,430.4 290.5,431.0 292.4,431.7 294.3,432.3 296.2,433.0 298.1,433.7 300.0,434.4 301.8,435.1 303.7,435.9 305.5,436.6 307.4,437.4 309.3,438.1 311.1,438.8 313.0,439.4 314.9,440.1 316.8,440.6 318.8,441.2 320.7,441.6 322.7,442.0 324.7,442.3 326.6,442.5 328.6,442.8 330.6,443.0 332.6,443.2 334.6,443.4 336.6,443.6 337.6,443.7" stroke="#4ce24c"/>
<path d="M56.0,424.5 57.9,425.1 59.8,425.7 61.7,426.4 63.5,427.3 65.3,428.2 67.0,429.1 68.8,430.0 70.6,430.9 72.4,431.8 74.2,432.7 75.9,433.7 77.7,434.7 79.4,435.7 81.0,436.8 82.7,438.0 84.3,439.1 86.0,440.3 87.6,441.4 89.2,442.6 90.9,443.7 92.5,444.8 94.2,445.9 95.9,446.9 97.7,447.9 99.4,448.9 101.2,449.8 103.0,450.7 104.8,451.6 106.6,452.4 108.5,453.1 110.4,453.8 112.3,454.4 114.2,454.8 116.2,455.2 118.2,455.3 120.2,455.3 122.1,455.0 124.1,454.4 125.9,453.8 127.8,453.1 129.7,452.4 131.6,451.7 133.4,451.0 135.2,450.2 137.0,449.2 138.8,448.3 140.6,447.4 142.4,446.5 144.1,445.6 145.9,444.6 147.6,443.6 149.3,442.6 151.1,441.6 152.9,440.7 154.7,439.9 156.6,439.2 158.4,438.4 160.3,437.7 162.1,436.9 163.9,436.1 165.7,435.2 167.6,434.5 169.5,433.8 171.3,433.1 173.2,432.4 175.1,431.8 177.1,431.3 179.0,430.9 181.0,430.5 183.0,430.2 185.0,430.0 187.0,429.9 189.0,429.8 190.9,429.7 192.9,429.7 194.9,429.7 196.9,429.7 198.9,429.8 200.9,429.8 202.9,429.9 204.9,430.0 206.9,430.0 208.9,430.2 210.9,430.3 212.9,430.5 214.9,430.7 216.9,430.9 218.9,431.1 220.9,431.3 222.9,431.5 224.9,431.7 226.9,431.9 228.8,432.0 230.8,432.2 232.8,432.3 234.8,432.5 236.8,432.6 238.8,432.7 240.8,432.9 242.8,433.0 244.8,433.1 246.8,433.3 248.8,433.4 250.8,433.6 252.8,433.7 254.8,433.8 256.8,434.0 258.8,434.1 260.8,434.3 262.8,434.4 264.8,434.6 266.8,434.7 268.7,434.9 270.7,435.0 272.7,435.2 274.7,435.4 276.7,435.6 278.7,435.7 280.7,435.9 282.7,436.2 284.7,436.4 286.7,436.6 288.6,436.9 290.6,437.1 292.6,437.4 294.6,437.6 296.6,437.9 298.6,438.1 300.6,438.4 302.5,438.6 304.5,438.8 306.5,439.0 308.5,439.2 310.5,439.4 312.5,439.6 314.5,439.7 316.5,439.9 318.5,440.1 320.5,440.3 322.5,440.4 324.4,440.6 326.4,440.8 328.4,441.0 330.4,441.1 332.4,441.3 334.4,441.5 336.4,441.7 337.9,441.8" stroke="#d044d0"/>
<path d="M56.0,418.4 57.9,419.0 59.8,419.5 61.7,420.1 63.7,420.7 65.6,421.3 67.5,421.9 69.4,422.5 71.3,423.1 73.2,423.6 75.2,424.0 77.1,424.4 79.1,424.7 81.1,425.0 83.1,425.2 85.1,425.3 87.1,425.3 89.1,425.2 91.1,425.2 93.1,425.2 95.1,425.2 97.1,425.3 99.1,425.3 101.1,425.4 103.1,425.5 105.1,425.6 107.1,425.7 109.1,425.9 111.1,426.0 113.1,426.1 115.1,426.2 117.1,426.3 119.1,426.4 121.0,426.5 123.0,426.6 125.0,426.7 127.0,426.8 129.0,426.9 131.0,426.9 133.0,427.0 135.0,427.1 137.0,427.2 139.0,427.3 141.0,427.4 143.0,427.5 145.0,427.6 147.0,427.7 149.0,427.8 151.0,427.8 153.0,427.9 155.0,428.0 157.0,428.0 159.0,428.1 161.0,428.1 163.0,428.2 165.0,428.2 167.0,428.3 169.0,428.3 171.0,428.4 173.0,428.4 175.0,428.5 177.0,428.5 179.0,428.6 181.0,428.6 183.0,428.7 185.0,428.7 187.0,428.7 189.0,428.8 191.0,428.8 193.0,428.8 195.0,428.8 197.0,428.8 199.0,428.8 201.0,428.8 203.0,428.8 205.0,428.8 207.0,428.8 209.0,428.8 211.0,428.8 213.0,428.8 215.0,428.7 217.0,428.7 219.0,428.7 221.0,428.6 223.0,428.6 225.0,428.6 227.0,428.5 229.0,428.5 231.0,428.5 233.0,428.5 235.0,428.4 237.0,428.4 239.0,428.4 241.0,428.4 243.0,428.4 245.0,428.4 247.0,428.4 249.0,428.4 251.0,428.4 253.0,428.5 255.0,428.5 257.0,428.6 259.0,428.6 261.0,428.7 263.0,428.8 265.0,428.9 267.0,428.9 269.0,429.0 271.0,429.1 273.0,429.2 275.0,429.3 277.0,429.4 279.0,429.5 281.0,429.6 283.0,429.7 285.0,429.8 287.0,429.9 289.0,430.0 291.0,430.2 293.0,430.3 295.0,430.4 297.0,430.5 298.9,430.7 300.9,430.8 302.9,430.9 304.9,431.0 306.9,431.0 308.9,431.1 310.9,431.2 312.9,431.3 314.9,431.3 316.9,431.4 318.9,431.4 320.9,431.5 322.9,431.6 324.9,431.6 326.9,431.7 328.9,431.7 330.9,431.8 332.9,431.8 334.9,431.9 336.9,432.0 337.9,432.0" stroke="#8a8040"/>
<path d="M56.0,415.0 58.0,415.2 60.0,415.4 62.0,415.6 64.0,415.8 66.0,416.0 67.9,416.2 69.9,416.4 71.9,416.6 73.9,416.8 75.9,417.0 77.9,417.2 79.9,417.4 81.9,417.5 83.9,417.6 85.9,417.7 87.9,417.8 89.9,418.0 91.9,418.2 93.8,418.4 95.8,418.6 97.8,418.9 99.8,419.2 101.8,419.5 103.7,419.7 105.7,420.0 107.7,420.3 109.7,420.6 111.7,420.9 113.6,421.2 115.6,421.5 117.6,421.9 119.6,422.2 121.5,422.5 123.5,422.8 125.5,423.0 127.5,423.2 129.5,423.4 131.5,423.6 133.5,423.8 135.5,424.0 137.4,424.2 139.4,424.5 141.4,424.7 143.4,424.9 145.4,425.2 147.4,425.4 149.4,425.6 151.3,425.9 153.3,426.1 155.3,426.3 157.3,426.6 159.3,426.8 161.3,427.0 163.3,427.3 165.2,427.5 167.2,427.7 169.2,427.9 171.2,428.1 173.2,428.3 175.2,428.4 177.2,428.6 179.2,428.7 181.2,428.8 183.2,428.9 185.2,429.0 187.2,429.0 189.2,429.1 191.2,429.2 193.2,429.2 195.2,429.3 197.2,429.3 199.2,429.4 201.2,429.4 203.2,429.5 205.2,429.5 207.2,429.5 209.2,429.6 211.2,429.6 213.2,429.7 215.2,429.7 217.2,429.8 219.2,429.9 221.2,429.9 223.2,430.0 225.2,430.0 227.2,430.0 229.2,430.0 231.2,430.1 233.2,430.1 235.2,430.1 237.2,430.1 239.2,430.1 241.2,430.1 243.2,430.1 245.2,430.1 247.2,430.2 249.2,430.2 251.2,430.3 253.2,430.3 255.2,430.4 257.2,430.4 259.2,430.5 261.2,430.6 263.2,430.7 265.2,430.7 267.2,430.8 269.2,430.9 271.2,431.0 273.2,431.1 275.2,431.2 277.2,431.3 279.1,431.4 281.1,431.5 283.1,431.6 285.1,431.7 287.1,431.9 289.1,432.0 291.1,432.2 293.1,432.3 295.1,432.4 297.1,432.6 299.1,432.8 301.1,432.9 303.1,433.1 305.1,433.2 307.1,433.4 309.1,433.5 311.1,433.7 313.1,433.9 315.0,434.0 317.0,434.2 319.0,434.4 321.0,434.5 323.0,434.7 325.0,434.9 327.0,435.1 329.0,435.2 331.0,435.4 333.0,435.6 335.0,435.7 337.0,435.9 338.0,436.0" stroke="#2e2eaa"/>
</g>
<rect x="56.20" y="2.95" width="281.80" height="185.05" class="ax"/>
<path d="M81.82,188.00v-4.5M81.82,2.95v4.5" class="tk"/>
<path d="M107.44,188.00v-2.6M107.44,2.95v2.6" class="tk"/>
<path d="M133.05,188.00v-4.5M133.05,2.95v4.5" class="tk"/>
<path d="M158.67,188.00v-2.6M158.67,2.95v2.6" class="tk"/>
<path d="M184.29,188.00v-4.5M184.29,2.95v4.5" class="tk"/>
<path d="M209.91,188.00v-2.6M209.91,2.95v2.6" class="tk"/>
<path d="M235.53,188.00v-4.5M235.53,2.95v4.5" class="tk"/>
<path d="M261.15,188.00v-2.6M261.15,2.95v2.6" class="tk"/>
<path d="M286.76,188.00v-4.5M286.76,2.95v4.5" class="tk"/>
<path d="M312.38,188.00v-2.6M312.38,2.95v2.6" class="tk"/>
<path d="M338.00,188.00v-4.5M338.00,2.95v4.5" class="tk"/>
<path d="M56.20,20.10h4.5M338.00,20.10h-4.5" class="tk"/>
<path d="M56.20,41.10h2.6M338.00,41.10h-2.6" class="tk"/>
<path d="M56.20,62.10h4.5M338.00,62.10h-4.5" class="tk"/>
<path d="M56.20,83.10h2.6M338.00,83.10h-2.6" class="tk"/>
<path d="M56.20,104.10h4.5M338.00,104.10h-4.5" class="tk"/>
<path d="M56.20,125.10h2.6M338.00,125.10h-2.6" class="tk"/>
<path d="M56.20,146.10h4.5M338.00,146.10h-4.5" class="tk"/>
<path d="M56.20,167.10h2.6M338.00,167.10h-2.6" class="tk"/>
<rect x="56.20" y="188.00" width="281.80" height="197.60" class="ax"/>
<path d="M81.82,385.60v-4.5M81.82,188.00v4.5" class="tk"/>
<path d="M107.44,385.60v-2.6M107.44,188.00v2.6" class="tk"/>
<path d="M133.05,385.60v-4.5M133.05,188.00v4.5" class="tk"/>
<path d="M158.67,385.60v-2.6M158.67,188.00v2.6" class="tk"/>
<path d="M184.29,385.60v-4.5M184.29,188.00v4.5" class="tk"/>
<path d="M209.91,385.60v-2.6M209.91,188.00v2.6" class="tk"/>
<path d="M235.53,385.60v-4.5M235.53,188.00v4.5" class="tk"/>
<path d="M261.15,385.60v-2.6M261.15,188.00v2.6" class="tk"/>
<path d="M286.76,385.60v-4.5M286.76,188.00v4.5" class="tk"/>
<path d="M312.38,385.60v-2.6M312.38,188.00v2.6" class="tk"/>
<path d="M338.00,385.60v-4.5M338.00,188.00v4.5" class="tk"/>
<path d="M56.20,206.00h4.5M338.00,206.00h-4.5" class="tk"/>
<path d="M56.20,228.45h2.6M338.00,228.45h-2.6" class="tk"/>
<path d="M56.20,250.90h4.5M338.00,250.90h-4.5" class="tk"/>
<path d="M56.20,273.35h2.6M338.00,273.35h-2.6" class="tk"/>
<path d="M56.20,295.80h4.5M338.00,295.80h-4.5" class="tk"/>
<path d="M56.20,318.25h2.6M338.00,318.25h-2.6" class="tk"/>
<path d="M56.20,340.70h4.5M338.00,340.70h-4.5" class="tk"/>
<path d="M56.20,363.15h2.6M338.00,363.15h-2.6" class="tk"/>
<rect x="56.20" y="385.60" width="281.80" height="194.70" class="ax"/>
<path d="M81.82,580.30v-4.5M81.82,385.60v4.5" class="tk"/>
<path d="M107.44,580.30v-2.6M107.44,385.60v2.6" class="tk"/>
<path d="M133.05,580.30v-4.5M133.05,385.60v4.5" class="tk"/>
<path d="M158.67,580.30v-2.6M158.67,385.60v2.6" class="tk"/>
<path d="M184.29,580.30v-4.5M184.29,385.60v4.5" class="tk"/>
<path d="M209.91,580.30v-2.6M209.91,385.60v2.6" class="tk"/>
<path d="M235.53,580.30v-4.5M235.53,385.60v4.5" class="tk"/>
<path d="M261.15,580.30v-2.6M261.15,385.60v2.6" class="tk"/>
<path d="M286.76,580.30v-4.5M286.76,385.60v4.5" class="tk"/>
<path d="M312.38,580.30v-2.6M312.38,385.60v2.6" class="tk"/>
<path d="M338.00,580.30v-4.5M338.00,385.60v4.5" class="tk"/>
<path d="M56.20,402.90h4.5M338.00,402.90h-4.5" class="tk"/>
<path d="M56.20,425.07h2.6M338.00,425.07h-2.6" class="tk"/>
<path d="M56.20,447.25h4.5M338.00,447.25h-4.5" class="tk"/>
<path d="M56.20,469.42h2.6M338.00,469.42h-2.6" class="tk"/>
<path d="M56.20,491.60h4.5M338.00,491.60h-4.5" class="tk"/>
<path d="M56.20,513.77h2.6M338.00,513.77h-2.6" class="tk"/>
<path d="M56.20,535.95h4.5M338.00,535.95h-4.5" class="tk"/>
<path d="M56.20,558.12h2.6M338.00,558.12h-2.6" class="tk"/>
<text x="51.4" y="23.80" class="yl">0</text>
<text x="51.4" y="65.80" class="yl">-5</text>
<text x="51.4" y="107.80" class="yl">-10</text>
<text x="51.4" y="149.80" class="yl">-15</text>
<text x="51.4" y="191.80" class="yl">-20</text>
<text x="51.4" y="209.70" class="yl">0</text>
<text x="51.4" y="254.60" class="yl">-5</text>
<text x="51.4" y="299.50" class="yl">-10</text>
<text x="51.4" y="344.40" class="yl">-15</text>
<text x="51.4" y="389.30" class="yl">-20</text>
<text x="51.4" y="406.60" class="yl">0</text>
<text x="51.4" y="450.95" class="yl">-5</text>
<text x="51.4" y="495.30" class="yl">-10</text>
<text x="51.4" y="539.65" class="yl">-15</text>
<text x="51.4" y="584.00" class="yl">-20</text>
<text x="81.82" y="599.4" class="xl">0.3</text>
<text x="133.05" y="599.4" class="xl">0.4</text>
<text x="184.29" y="599.4" class="xl">0.5</text>
<text x="235.53" y="599.4" class="xl">0.6</text>
<text x="286.76" y="599.4" class="xl">0.7</text>
<text x="338.00" y="599.4" class="xl">0.8</text>
<path d="M208.6,51.9H243.2" stroke="#3e3e3e" class="lg"/>
<text x="247.0" y="57.0" class="lt">E<tspan class="sub" dy="5.6" dx="-1.1">0</tspan><tspan dy="-5.6" dx="0.3">/16</tspan></text>
<path d="M208.6,75.3H243.2" stroke="#e23840" class="lg"/>
<text x="247.0" y="80.4" class="lt">E<tspan class="sub" dy="5.6" dx="-1.1">0</tspan><tspan dy="-5.6" dx="0.3">/8</tspan></text>
<path d="M208.6,98.9H243.2" stroke="#4ce24c" class="lg"/>
<text x="247.0" y="104.0" class="lt">E<tspan class="sub" dy="5.6" dx="-1.1">0</tspan><tspan dy="-5.6" dx="0.3">/4</tspan></text>
<path d="M208.6,122.6H243.2" stroke="#3c3cc0" class="lg"/>
<text x="247.0" y="127.7" class="lt">E<tspan class="sub" dy="5.6" dx="-1.1">0</tspan><tspan dy="-5.6" dx="0.3">/2</tspan></text>
<path d="M208.6,146.3H243.2" stroke="#70e6f0" class="lg"/>
<text x="247.0" y="151.4" class="lt">3E<tspan class="sub" dy="5.6" dx="-1.1">0</tspan><tspan dy="-5.6" dx="0.3">/4</tspan></text>
<path d="M208.6,170.4H243.2" stroke="#d044d0" class="lg"/>
<text x="247.0" y="175.5" class="lt">E<tspan class="sub" dy="5.6" dx="-1.1">0</tspan><tspan dy="-5.6" dx="0.3"></tspan></text>
<path d="M210.6,247.0H244.9" stroke="#3e3e3e" class="lg"/>
<text x="249.4" y="252.1" class="lt">E<tspan class="sub" dy="5.6" dx="-1.1">0</tspan><tspan dy="-5.6" dx="0.3">/16</tspan></text>
<path d="M210.6,271.0H244.9" stroke="#e23840" class="lg"/>
<text x="249.4" y="276.1" class="lt">E<tspan class="sub" dy="5.6" dx="-1.1">0</tspan><tspan dy="-5.6" dx="0.3">/8</tspan></text>
<path d="M210.6,294.3H244.9" stroke="#4ce24c" class="lg"/>
<text x="249.4" y="299.4" class="lt">E<tspan class="sub" dy="5.6" dx="-1.1">0</tspan><tspan dy="-5.6" dx="0.3">/4</tspan></text>
<path d="M210.6,318.4H244.9" stroke="#3c3cc0" class="lg"/>
<text x="249.4" y="323.5" class="lt">E<tspan class="sub" dy="5.6" dx="-1.1">0</tspan><tspan dy="-5.6" dx="0.3">/2</tspan></text>
<path d="M210.6,341.6H244.9" stroke="#70e6f0" class="lg"/>
<text x="249.4" y="346.7" class="lt">3E<tspan class="sub" dy="5.6" dx="-1.1">0</tspan><tspan dy="-5.6" dx="0.3">/4</tspan></text>
<path d="M210.6,364.9H244.9" stroke="#d044d0" class="lg"/>
<text x="249.4" y="370.0" class="lt">E<tspan class="sub" dy="5.6" dx="-1.1">0</tspan><tspan dy="-5.6" dx="0.3"></tspan></text>
<path d="M216.0,458.5H251.3" stroke="#3e3e3e" class="lg"/>
<text x="254.2" y="464.5" class="lt2">4.5 K</text>
<path d="M216.0,477.4H251.3" stroke="#e23840" class="lg"/>
<text x="254.2" y="483.4" class="lt2">10 K</text>
<path d="M216.0,496.5H251.3" stroke="#4ce24c" class="lg"/>
<text x="254.2" y="502.5" class="lt2">13 K</text>
<path d="M216.0,515.5H251.3" stroke="#d044d0" class="lg"/>
<text x="254.2" y="521.5" class="lt2">14 K</text>
<path d="M216.0,534.4H251.3" stroke="#8a8040" class="lg"/>
<text x="254.2" y="540.4" class="lt2">15 K</text>
<path d="M216.0,553.2H251.3" stroke="#2e2eaa" class="lg"/>
<text x="254.2" y="559.2" class="lt2">15.5 K</text>
<text x="76.6" y="100.2" class="an">10 K</text>
<text x="76.9" y="306.0" class="an">13 K</text>
<text class="pl" y="166.1"><tspan x="70.6">(</tspan><tspan x="77.7" dy="-2.4" class="pli">a</tspan><tspan x="88.3" dy="2.4">)</tspan></text>
<text class="pl" y="364.0"><tspan x="69.6">(</tspan><tspan x="76.0" dy="-1.0" class="pli" style="font-size:24px">b</tspan><tspan x="87.6" dy="1.0">)</tspan></text>
<text class="pl" y="559.3"><tspan x="70.0">(</tspan><tspan x="76.6" dy="-1.4" class="pli" style="font-size:22.5px">c</tspan><tspan x="85.6" dy="1.4">)</tspan></text>
<text class="e16"><tspan x="68.3" y="515.2" font-style="italic" font-size="17.8px">E</tspan><tspan x="77.4" y="521.6" font-style="italic" font-size="9.5">0</tspan><tspan x="92.2" y="515.2" font-size="18.4px">16</tspan></text>
<path d="M82.6,519.6L90.9,503.6" stroke="#111" stroke-width="1.45" fill="none"/>
<text x="190" y="617.8" class="xt" textLength="142.5" lengthAdjust="spacingAndGlyphs">Frequency (THz)</text>
<text transform="translate(16,290) rotate(-90)" x="-128.5" y="0" class="yt" textLength="257" lengthAdjust="spacingAndGlyphs">Amplitude transmission (dB)</text>
</svg>
</body></html>
